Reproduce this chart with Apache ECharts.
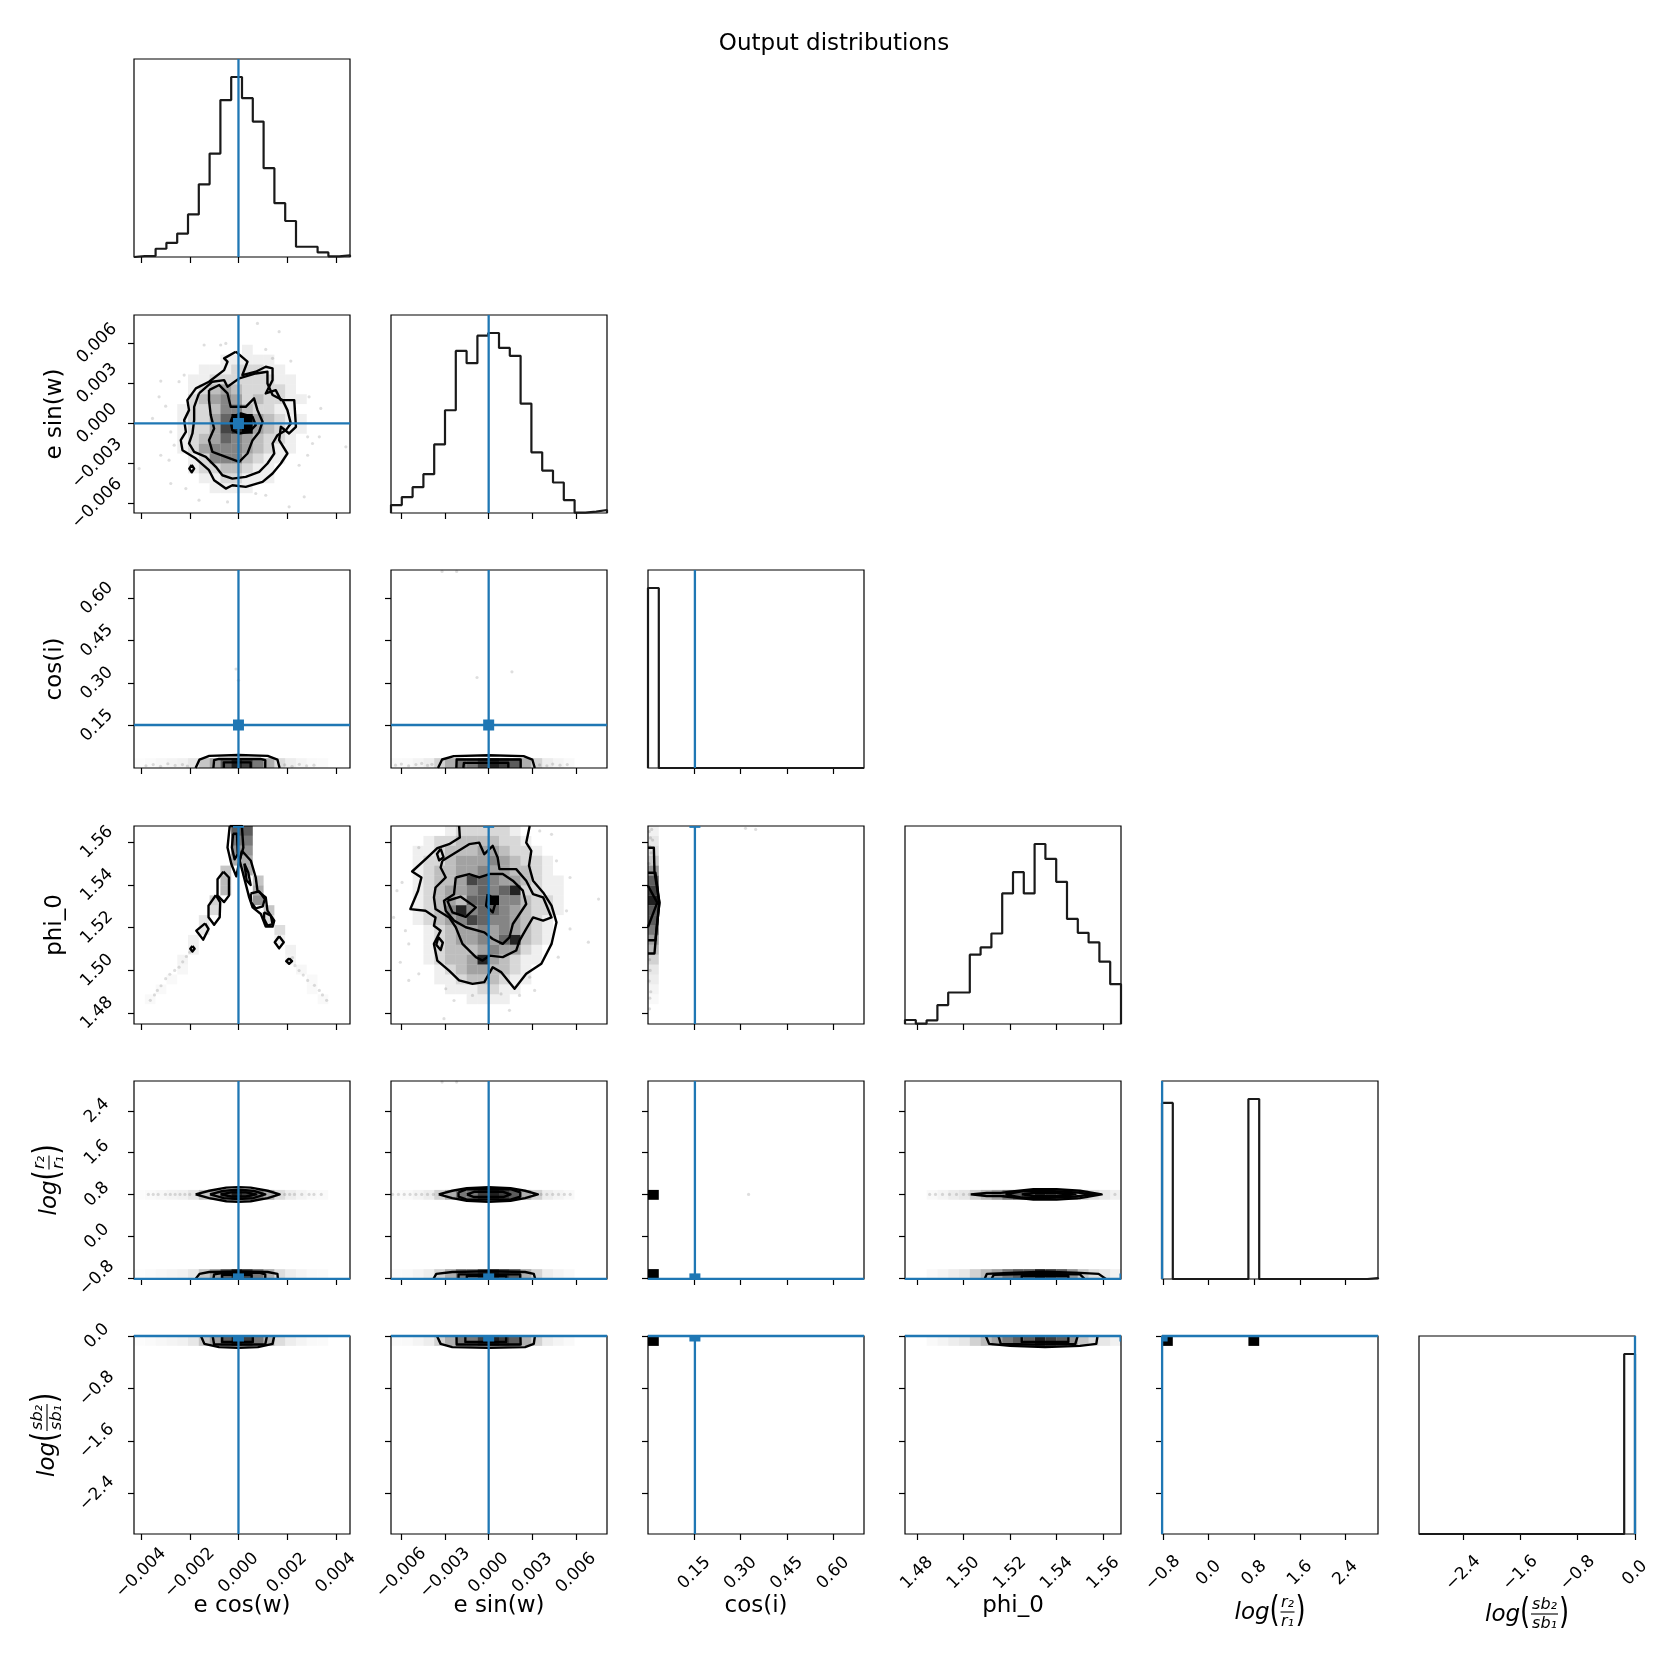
<!DOCTYPE html>
<html>
<head>
<meta charset="utf-8">
<title>Output distributions</title>
<script src="https://cdn.jsdelivr.net/npm/echarts@6.0.0/dist/echarts.min.js"></script>
<style>
  html, body { margin: 0; padding: 0; background: #fff; }
  #chart { width: 1668px; height: 1668px; }
</style>
</head>
<body>
<div id="chart"></div>
<script>
// parameter order: e cos(w), e sin(w), cos(i), phi_0, log(r2/r1), log(sb2/sb1)
var plainLabels = ['e cos(w)', 'e sin(w)', 'cos(i)', 'phi_0'];
var ranges = [
  [-0.00429, 0.00458],
  [-0.00671, 0.00813],
  [0.0, 0.70],
  [1.4749, 1.5676],
  [-0.818, 2.97],
  [-3.016, 0.0]
];
var tickValues = [
  [-0.004, -0.002, 0, 0.002, 0.004],
  [-0.006, -0.003, 0, 0.003, 0.006],
  [0.15, 0.30, 0.45, 0.60],
  [1.48, 1.50, 1.52, 1.54, 1.56],
  [-0.8, 0.0, 0.8, 1.6, 2.4],
  [-2.4, -1.6, -0.8, 0.0]
];
var tickDecimals = [3, 3, 2, 2, 1, 1];
var truths = [0.0, 0.0, 0.152, 1.5693, -0.816, 0.0];

// 1D histograms (20 bins over each range)
var histEcos = [3, 3, 25, 43, 71, 129, 220, 313, 475, 545, 481, 410, 269, 163, 109, 31, 31, 14, 2, 5];
var histEsin = [24, 48, 78, 117, 207, 310, 489, 452, 535, 543, 498, 474, 330, 183, 128, 92, 39, 1, 4, 9];
var histCosi = [545, 0, 0, 0, 0, 0, 0, 0, 0, 0, 0, 0, 0, 0, 0, 0, 0, 0, 0, 0];
var histPhi = [12, 1, 11, 57, 95, 95, 209, 231, 273, 394, 458, 394, 543, 498, 429, 317, 275, 246, 188, 120];
var histLogR = [533, 0, 0, 0, 0, 0, 0, 0, 545, 0, 0, 0, 0, 0, 0, 0, 0, 0, 0, 3];
var histLogSb = [0, 0, 0, 0, 0, 0, 0, 0, 0, 0, 0, 0, 0, 0, 0, 0, 0, 0, 0, 545];

// 2D density shading (0-9), rows from top bin (19) to bottom bin (0)
var gridEsinEcos = [
  '00000000000000000000', '00000000000000000000', '00000000000000000000', '00000000001000000000',
  '00000000111110000000', '00000011122211000000', '00000112222221100000', '00000123432222100000',
  '00000234542322110000', '00001223553221100000', '00001224699432110000', '00001224789432110000',
  '00001234654322100000', '00001245554321100000', '00000125553211000000', '00000122332110000000',
  '00000011221110000000', '00000001111000000000', '00000000000000000000', '00000000000000000000'
];
var gridPhiEsin = [
  '00000122222100000000', '00012233332210000000', '00112333443221000000', '00122344454322100000',
  '00123344544332100000', '00123347654432110000', '00123445656822110000', '00123436695532210000',
  '00123585665432210000', '00123457655432100000', '00012344545432100000', '00012344546832100000',
  '00012333454421000000', '00012334843211000000', '00001234433210000000', '00001123332110000000',
  '00000111221100000000', '00000001111000000000', '00000000000000000000', '00000000000000000000'
];
// [x bin, y bin, shade 0-10]
var cellsPhiEcos = [
  [1, 2, 0.5], [2, 3, 0.5], [3, 4, 0.5], [4, 5, 0.6], [4, 6, 0.8], [5, 7, 1], [5, 8, 1], [6, 9, 1.5], [6, 10, 1.5],
  [7, 11, 2], [7, 12, 2.5], [8, 13, 3.5], [8, 14, 3.5], [8, 15, 3], [9, 16, 4], [9, 17, 5], [9, 18, 6], [9, 19, 7],
  [10, 19, 7], [10, 18, 6], [10, 17, 5], [10, 16, 4], [10, 15, 4], [11, 14, 3], [11, 13, 4], [11, 12, 5],
  [12, 11, 3], [12, 10, 2], [13, 9, 2], [13, 8, 1], [14, 7, 1], [14, 6, 0.8], [15, 5, 0.6], [16, 4, 0.5], [16, 3, 0.5], [17, 2, 0.5]
];
// marginal shading of the narrow bands (0-10)
var bandEcos = [0.3, 0.4, 0.6, 0.8, 1, 1.5, 3, 4.5, 7, 9, 8, 6, 4, 2, 1.2, 0.8, 0.5, 0.4, 0, 0];
var bandEsin = [0.4, 0.5, 0.8, 1.2, 2.5, 4, 6, 6, 8, 9, 8, 7, 4, 2.5, 1.2, 0.8, 0.5, 0, 0, 0];
var bandPhi = [0, 0, 0.5, 0.8, 1.2, 1.5, 2.5, 3.5, 4.5, 6, 7, 7, 9, 8, 7, 5, 3, 2, 1.5, 1];
var cellsLogrCosi = [[0, 0, 10], [0, 8, 10]];
var cellsLogsbCosi = [[0, 19, 10]];
var cellsLogsbLogr = [[0, 19, 10], [8, 19, 10]];

// contour lines
var contoursEsinEcos = [
  [[-0.00011, 0.00538], [0.00037, 0.00463], [0.00016, 0.00363], [0.00071, 0.00388], [0.00112, 0.00425], [0.00140, 0.00413],
   [0.00140, 0.00325], [0.00112, 0.00225], [0.00153, 0.00250], [0.00174, 0.00175], [0.00229, 0.00175], [0.00236, -0.00025],
   [0.00208, -0.00075], [0.00174, -0.00025], [0.00167, -0.00125], [0.00201, -0.00225], [0.00174, -0.00300], [0.00140, -0.00375],
   [0.00099, -0.00438], [0.00030, -0.00475], [-0.00025, -0.00463], [-0.00052, -0.00488], [-0.00100, -0.00425], [-0.00121, -0.00350],
   [-0.00175, -0.00263], [-0.00230, -0.00200], [-0.00237, -0.00125], [-0.00216, -0.00063], [-0.00223, 0.00025], [-0.00203, 0.00100],
   [-0.00210, 0.00175], [-0.00175, 0.00263], [-0.00121, 0.00313], [-0.00059, 0.00400], [-0.00045, 0.00463], [-0.00059, 0.00488], [-0.00011, 0.00538]],
  [[-0.00162, 0.00225], [-0.00107, 0.00313], [-0.00059, 0.00325], [-0.00045, 0.00275], [0.00003, 0.00338], [0.00071, 0.00375],
   [0.00119, 0.00388], [0.00119, 0.00300], [0.00140, 0.00213], [0.00181, 0.00175], [0.00201, 0.00100], [0.00215, 0.0],
   [0.00195, -0.00050], [0.00160, -0.00088], [0.00140, -0.00150], [0.00147, -0.00225], [0.00119, -0.00300], [0.00085, -0.00363],
   [0.00030, -0.00400], [-0.00025, -0.00413], [-0.00066, -0.00388], [-0.00093, -0.00325], [-0.00134, -0.00250], [-0.00182, -0.00213],
   [-0.00203, -0.00150], [-0.00189, -0.00075], [-0.00182, 0.00025], [-0.00182, 0.00125], [-0.00162, 0.00225]],
  [[-0.00121, 0.00250], [-0.00079, 0.00288], [-0.00045, 0.00225], [-0.00032, 0.00125], [0.00030, 0.00125], [0.00064, 0.00188],
   [0.00078, 0.00100], [0.00099, 0.00013], [0.00085, -0.00063], [0.00058, -0.00125], [0.00037, -0.00225], [0.00003, -0.00288],
   [-0.00052, -0.00250], [-0.00107, -0.00213], [-0.00121, -0.00125], [-0.00100, -0.00038], [-0.00114, 0.00063], [-0.00121, 0.00175], [-0.00121, 0.00250]],
  [[-0.00025, 0.00050], [0.00010, 0.00075], [0.00058, 0.00050], [0.00071, -0.00013], [0.00044, -0.00063], [0.00003, -0.00075],
   [-0.00025, -0.00050], [-0.00032, 0.00013], [-0.00025, 0.00050]],
  [[-0.00192, -0.00310], [-0.00182, -0.00338], [-0.00192, -0.00366], [-0.00202, -0.00338], [-0.00192, -0.00310]]
];
var contoursPhiEcos = [
  [[-0.00036, 1.5676], [0.00014, 1.5676], [0.00020, 1.5575], [0.00004, 1.5513], [-0.00009, 1.5440], [-0.00029, 1.5497], [-0.00045, 1.5575], [-0.00036, 1.5676]],
  [[-0.00022, 1.5640], [-0.00006, 1.5640], [-0.00003, 1.5544], [-0.00016, 1.5520], [-0.00027, 1.5575], [-0.00022, 1.5640]],
  [[0.00014, 1.5560], [0.00051, 1.5513], [0.00071, 1.5435], [0.00078, 1.5373], [0.00112, 1.5342], [0.00119, 1.5280], [0.00147, 1.5233],
   [0.00140, 1.5205], [0.00112, 1.5205], [0.00092, 1.5264], [0.00058, 1.5295], [0.00044, 1.5342], [0.00030, 1.5404], [0.00016, 1.5466], [0.00005, 1.5513], [0.00014, 1.5560]],
  [[0.00050, 1.5360], [0.00085, 1.5370], [0.00108, 1.5334], [0.00100, 1.5300], [0.00071, 1.5290], [0.00052, 1.5319], [0.00050, 1.5360]],
  [[0.00024, 1.5500], [0.00040, 1.5460], [0.00050, 1.5400], [0.00034, 1.5420], [0.00024, 1.5500]],
  [[0.00105, 1.5272], [0.00133, 1.5256], [0.00140, 1.5217], [0.00119, 1.5210], [0.00105, 1.5241], [0.00105, 1.5272]],
  [[0.00167, 1.5160], [0.00186, 1.5132], [0.00167, 1.5103], [0.00149, 1.5132], [0.00167, 1.5160]],
  [[0.00208, 1.5056], [0.00220, 1.5043], [0.00208, 1.5031], [0.00196, 1.5043], [0.00208, 1.5056]],
  [[-0.00062, 1.5462], [-0.00039, 1.5435], [-0.00039, 1.5350], [-0.00059, 1.5320], [-0.00086, 1.5350], [-0.00086, 1.5427], [-0.00062, 1.5462]],
  [[-0.00093, 1.5352], [-0.00075, 1.5319], [-0.00077, 1.5249], [-0.00100, 1.5214], [-0.00123, 1.5249], [-0.00123, 1.5303], [-0.00093, 1.5352]],
  [[-0.00137, 1.5220], [-0.00123, 1.5194], [-0.00145, 1.5144], [-0.00173, 1.5186], [-0.00137, 1.5220]],
  [[-0.00189, 1.5114], [-0.00180, 1.5101], [-0.00189, 1.5088], [-0.00198, 1.5101], [-0.00189, 1.5114]]
];
var contoursPhiEsin = [
  [[-0.00203, 1.5676], [-0.00198, 1.5622], [-0.00272, 1.5591], [-0.00353, 1.5572], [-0.00422, 1.5528], [-0.00526, 1.5463], [-0.00462, 1.5435],
   [-0.00485, 1.5373], [-0.00538, 1.5287], [-0.00434, 1.5279], [-0.00365, 1.5248], [-0.00376, 1.5209], [-0.00330, 1.5186], [-0.00376, 1.5124],
   [-0.00353, 1.5046], [-0.00272, 1.4999], [-0.00203, 1.4953], [-0.00111, 1.4937], [-0.00030, 1.4945], [0.00028, 1.5015], [0.00085, 1.4992],
   [0.00178, 1.4914], [0.00258, 1.4984], [0.00362, 1.5031], [0.00432, 1.5124], [0.00466, 1.5225], [0.00432, 1.5303], [0.00374, 1.5365],
   [0.00305, 1.5420], [0.00277, 1.5490], [0.00293, 1.5560], [0.00258, 1.5598], [0.00282, 1.5676]],
  [[-0.00318, 1.5513], [-0.00226, 1.5552], [-0.00134, 1.5591], [-0.00065, 1.5598], [-0.00030, 1.5544], [0.00028, 1.5583], [0.00062, 1.5528],
   [0.00074, 1.5474], [0.00189, 1.5474], [0.00258, 1.5420], [0.00305, 1.5357], [0.00374, 1.5342], [0.00432, 1.5248], [0.00374, 1.5233],
   [0.00305, 1.5248], [0.00258, 1.5194], [0.00212, 1.5139], [0.00189, 1.5093], [0.00097, 1.5062], [0.00005, 1.5069], [-0.00042, 1.5046],
   [-0.00088, 1.5062], [-0.00180, 1.5124], [-0.00226, 1.5202], [-0.00272, 1.5248], [-0.00365, 1.5287], [-0.00376, 1.5342], [-0.00365, 1.5388],
   [-0.00295, 1.5435], [-0.00330, 1.5482], [-0.00318, 1.5513]],
  [[-0.00226, 1.5435], [-0.00134, 1.5451], [-0.00065, 1.5435], [0.00005, 1.5451], [0.00097, 1.5451], [0.00166, 1.5420], [0.00235, 1.5373],
   [0.00258, 1.5311], [0.00212, 1.5264], [0.00166, 1.5217], [0.00143, 1.5155], [0.00097, 1.5124], [0.00028, 1.5147], [-0.00030, 1.5178],
   [-0.00157, 1.5202], [-0.00238, 1.5233], [-0.00295, 1.5279], [-0.00307, 1.5326], [-0.00238, 1.5357], [-0.00226, 1.5435]],
  [[-0.00284, 1.5326], [-0.00192, 1.5345], [-0.00088, 1.5295], [-0.00157, 1.5251], [-0.00249, 1.5272], [-0.00284, 1.5326]],
  [[-0.00007, 1.5357], [0.00051, 1.5326], [0.00028, 1.5272], [-0.00018, 1.5303], [-0.00007, 1.5357]],
  [[-0.00330, 1.5570], [-0.00310, 1.5530], [-0.00340, 1.5515], [-0.00355, 1.5545], [-0.00330, 1.5570]],
  [[-0.00345, 1.5155], [-0.00315, 1.5130], [-0.00330, 1.5095], [-0.00360, 1.5120], [-0.00345, 1.5155]]
];
var contoursCosiEcos = [
  [[-0.00176, 0], [-0.0016, 0.030], [-0.0012, 0.043], [0, 0.046], [0.0012, 0.043], [0.0016, 0.030], [0.00169, 0]],
  [[-0.00103, 0], [-0.0010, 0.028], [-0.0008, 0.032], [0.0009, 0.032], [0.0011, 0.028], [0.0011, 0]],
  [[-0.0006, 0], [-0.0006, 0.020], [0.0005, 0.020], [0.0005, 0]]
];
var contoursCosiEsin = [
  [[-0.00348, 0], [-0.0032, 0.030], [-0.0024, 0.042], [0, 0.045], [0.0024, 0.042], [0.0030, 0.030], [0.00317, 0]],
  [[-0.00222, 0], [-0.0022, 0.030], [0.0022, 0.030], [0.0022, 0]],
  [[-0.00174, 0], [-0.0017, 0.018], [0.00135, 0.018], [0.00135, 0]]
];
var contoursPhiCosi = [
  [[0, 1.5574], [0.019, 1.5574], [0.021, 1.5460], [0.037, 1.5317], [0.028, 1.5200], [0.021, 1.5079], [0, 1.5079]],
  [[0, 1.5457], [0.024, 1.5457], [0.037, 1.5317], [0.024, 1.5141], [0, 1.5141]],
  [[0, 1.5396], [0.030, 1.5317], [0, 1.5203]]
];
var contoursLogrEcos = [
  [[-0.00176, 0.80], [-0.0012, 0.87], [-0.0005, 0.93], [0, 0.94], [0.0005, 0.93], [0.0012, 0.87], [0.00169, 0.80], [0.0012, 0.73], [0.0005, 0.67], [0, 0.66], [-0.0005, 0.67], [-0.0012, 0.73], [-0.00176, 0.80]],
  [[-0.00117, 0.80], [-0.0006, 0.87], [0, 0.89], [0.0006, 0.87], [0.0011, 0.80], [0.0006, 0.73], [0, 0.71], [-0.0006, 0.73], [-0.00117, 0.80]],
  [[-0.00074, 0.80], [-0.0003, 0.84], [0.0003, 0.84], [0.00073, 0.80], [0.0003, 0.76], [-0.0003, 0.76], [-0.00074, 0.80]],
  [[-0.00176, -0.818], [-0.0016, -0.72], [-0.0012, -0.685], [0, -0.675], [0.0012, -0.685], [0.0016, -0.72], [0.00162, -0.818]],
  [[-0.00103, -0.818], [-0.0010, -0.73], [-0.0006, -0.70], [0.0009, -0.70], [0.0011, -0.73], [0.0011, -0.818]],
  [[-0.00067, -0.818], [-0.00067, -0.74], [0.00054, -0.74], [0.00054, -0.818]]
];
var contoursLogrEsin = [
  [[-0.00343, 0.80], [-0.0025, 0.87], [-0.0015, 0.92], [0, 0.94], [0.0015, 0.92], [0.0025, 0.87], [0.00338, 0.80], [0.0025, 0.73], [0.0015, 0.68], [0, 0.66], [-0.0015, 0.68], [-0.0025, 0.73], [-0.00343, 0.80]],
  [[-0.00207, 0.84], [-0.0015, 0.90], [0.0015, 0.90], [0.00217, 0.84], [0.00217, 0.76], [0.0015, 0.70], [-0.0015, 0.70], [-0.00207, 0.76], [-0.00207, 0.84]],
  [[-0.0015, 0.80], [-0.0010, 0.85], [0.0010, 0.85], [0.0015, 0.80], [0.0010, 0.75], [-0.0010, 0.75], [-0.0015, 0.80]],
  [[-0.0038, -0.818], [-0.0036, -0.72], [-0.0025, -0.685], [0, -0.67], [0.0025, -0.685], [0.0031, -0.72], [0.0032, -0.818]],
  [[-0.00207, -0.818], [-0.00207, -0.73], [0.00217, -0.73], [0.00217, -0.818]],
  [[-0.0015, -0.818], [-0.0015, -0.76], [0.0012, -0.76], [0.0012, -0.818]]
];
var contoursLogrPhi = [
  [[1.5031, 0.80], [1.510, 0.83], [1.516, 0.83], [1.520, 0.85], [1.530, 0.90], [1.540, 0.90], [1.550, 0.87], [1.5593, 0.80], [1.550, 0.73], [1.540, 0.70], [1.530, 0.70], [1.520, 0.75], [1.516, 0.77], [1.510, 0.77], [1.5031, 0.80]],
  [[1.518, 0.80], [1.525, 0.86], [1.535, 0.87], [1.548, 0.84], [1.556, 0.80], [1.548, 0.76], [1.535, 0.73], [1.525, 0.74], [1.518, 0.80]],
  [[1.525, 0.80], [1.530, 0.83], [1.540, 0.83], [1.548, 0.80], [1.540, 0.77], [1.530, 0.77], [1.525, 0.80]],
  [[1.5091, -0.818], [1.510, -0.72], [1.520, -0.70], [1.535, -0.68], [1.550, -0.70], [1.558, -0.72], [1.5611, -0.818]],
  [[1.512, -0.818], [1.513, -0.74], [1.530, -0.72], [1.550, -0.73], [1.552, -0.818]],
  [[1.525, -0.818], [1.525, -0.76], [1.545, -0.76], [1.545, -0.818]]
];
var contoursLogsbEcos = [
  [[-0.00154, 0], [-0.0014, -0.12], [-0.0008, -0.17], [0, -0.18], [0.0008, -0.17], [0.0014, -0.12], [0.00147, 0]],
  [[-0.00106, 0], [-0.0010, -0.13], [0.0011, -0.13], [0.00117, 0]],
  [[-0.00067, 0], [-0.00067, -0.09], [0.00059, -0.09], [0.00059, 0]]
];
var contoursLogsbEsin = [
  [[-0.00355, 0], [-0.0033, -0.12], [-0.0025, -0.17], [0, -0.18], [0.0025, -0.17], [0.0031, -0.12], [0.00318, 0]],
  [[-0.00221, 0], [-0.0022, -0.13], [0.0022, -0.13], [0.00218, 0]],
  [[-0.0016, 0], [-0.0016, -0.09], [0.0012, -0.09], [0.0012, 0]]
];
var contoursLogsbPhi = [
  [[1.5096, 0], [1.511, -0.12], [1.520, -0.15], [1.535, -0.17], [1.550, -0.15], [1.557, -0.12], [1.5575, 0]],
  [[1.515, 0], [1.516, -0.12], [1.530, -0.13], [1.548, -0.12], [1.549, 0]],
  [[1.525, 0], [1.525, -0.09], [1.545, -0.09], [1.545, 0]]
];

// individual samples outside the contours
var ptsEsinEcos = [
  [0.00078, 0.0075], [0.00167, 0.00688], [-0.00141, 0.00588], [-0.00052, 0.0060], [-0.00073, 0.00588], [0.00112, 0.00555],
  [0.00215, 0.00468], [-0.00319, 0.00318], [-0.00244, 0.00313], [-0.00223, 0.00363], [0.00140, 0.00488], [-0.00326, 0.0020],
  [-0.00299, 0.0013], [-0.00353, 0.00038], [-0.00278, -0.00063], [-0.00264, -0.00163], [-0.00319, -0.00238], [-0.00285, -0.00275],
  [-0.00408, -0.00338], [-0.00278, -0.0045], [-0.00216, -0.00488], [-0.00162, -0.00575], [-0.00045, -0.00588], [0.00071, -0.00525],
  [0.00112, -0.00538], [0.00208, -0.00625], [0.00270, -0.0055], [0.00249, -0.00313], [0.00284, -0.00238], [0.00304, -0.0015],
  [0.00284, -0.0010], [0.00338, 0.00113], [0.00332, -0.0010], [0.00290, 0.0020], [0.00441, -0.00175]
];
var ptsPhiEcos = [
  [-0.00362, 1.4860], [-0.00345, 1.4885], [-0.00333, 1.4906], [-0.00318, 1.4928], [-0.00299, 1.4961], [-0.00282, 1.4982],
  [-0.00262, 1.5000], [-0.00244, 1.5015], [-0.00229, 1.5040], [-0.00214, 1.5065], [-0.00200, 1.5085],
  [0.00362, 1.4860], [0.00345, 1.4885], [0.00332, 1.4906], [0.00312, 1.4930], [0.00284, 1.4953], [0.00266, 1.4978],
  [0.00249, 1.4999], [0.00232, 1.5022], [0.00222, 1.5060]
];
var ptsPhiEsin = [
  [-0.00653, 1.5248], [-0.00595, 1.5412], [-0.0063, 1.5373], [-0.00572, 1.5186], [-0.0048, 1.5575], [-0.00549, 1.5124],
  [-0.00607, 1.5038], [-0.0048, 1.4984], [-0.00549, 1.4953], [-0.00295, 1.4914], [-0.00238, 1.4859], [-0.00111, 1.4883],
  [0.00085, 1.4890], [0.00212, 1.4883], [0.00316, 1.4906], [0.00282, 1.4968], [0.00478, 1.5062], [0.00559, 1.5194],
  [0.00535, 1.5279], [0.00466, 1.5513], [0.00432, 1.5637], [0.00351, 1.5653], [0.00559, 1.5435], [0.00755, 1.5334],
  [0.00685, 1.5132], [-0.00307, 1.4774], [0.00143, 1.4813]
];
var ptsCosiEcos = [
  [-0.0038, 0.008], [-0.0035, 0.012], [-0.0032, 0.006], [-0.0029, 0.015], [-0.0026, 0.009], [-0.0023, 0.012], [-0.0021, 0.007],
  [0.0019, 0.011], [0.0022, 0.006], [0.0025, 0.013], [0.0028, 0.008], [0.0031, 0.010], [0.0, 0.31], [-0.0001, 0.35]
];
var ptsCosiEsin = [
  [-0.0064, 0.010], [-0.0060, 0.014], [-0.0055, 0.008], [-0.0050, 0.012], [-0.0046, 0.016], [-0.0042, 0.009], [-0.0039, 0.013],
  [0.0035, 0.011], [0.0040, 0.008], [0.0044, 0.014], [0.0049, 0.010], [0.0054, 0.012], [-0.0032, 0.695], [-0.0022, 0.695],
  [0.0016, 0.34], [-0.0008, 0.32]
];
var ptsPhiCosi = [
  [0.004, 1.565], [0.008, 1.562], [0.012, 1.566], [0.006, 1.558], [0.015, 1.561], [0.010, 1.555], [0.003, 1.550],
  [0.005, 1.505], [0.007, 1.500], [0.004, 1.495], [0.009, 1.490], [0.006, 1.487], [0.005, 1.482], [0.316, 1.5665], [0.349, 1.566]
];
var ptsLogrEcos = [
  [-0.0037, 0.8], [-0.0035, 0.8], [-0.0033, 0.8], [-0.0030, 0.8], [-0.0028, 0.8], [-0.0026, 0.8], [-0.0024, 0.8], [-0.0022, 0.8],
  [-0.0020, 0.8], [0.0019, 0.8], [0.0021, 0.8], [0.0023, 0.8], [0.0026, 0.8], [0.0029, 0.8], [0.0031, 0.8], [0.0034, 0.8]
];
var ptsLogrEsin = [
  [-0.0066, 0.8], [-0.0062, 0.8], [-0.0058, 0.8], [-0.0054, 0.8], [-0.0050, 0.8], [-0.0046, 0.8], [-0.0042, 0.8], [-0.0038, 0.8],
  [0.0036, 0.8], [0.0040, 0.8], [0.0044, 0.8], [0.0048, 0.8], [0.0052, 0.8], [0.0056, 0.8], [-0.0032, 2.95], [-0.0022, 2.95]
];
var ptsLogrCosi = [[0.326, 0.8]];
var ptsLogrPhi = [[1.4855, 0.8], [1.488, 0.8], [1.491, 0.8], [1.494, 0.8], [1.497, 0.8], [1.500, 0.8], [1.5025, 0.8], [1.565, 0.8]];

// ---- build cell lists ----
function gridToCells(rows) {
  var out = [];
  rows.forEach(function (row, k) {
    var j = rows.length - 1 - k;
    for (var i = 0; i < row.length; i++) {
      var v = +row.charAt(i);
      if (v > 0) out.push([i, j, v * 10 / 9]);
    }
  });
  return out;
}
function bandRows(band, js) {
  var out = [];
  js.forEach(function (j) {
    band.forEach(function (v, i) { if (v > 0) out.push([i, j, v]); });
  });
  return out;
}
function bandCol(band, i) {
  var out = [];
  band.forEach(function (v, j) { if (v > 0) out.push([i, j, v]); });
  return out;
}

var hists = [histEcos, histEsin, histCosi, histPhi, histLogR, histLogSb];
var panels = {
  '1-0': {cells: gridToCells(gridEsinEcos), contours: contoursEsinEcos, points: ptsEsinEcos},
  '2-0': {cells: bandRows(bandEcos, [0]), contours: contoursCosiEcos, points: ptsCosiEcos},
  '2-1': {cells: bandRows(bandEsin, [0]), contours: contoursCosiEsin, points: ptsCosiEsin},
  '3-0': {cells: cellsPhiEcos, contours: contoursPhiEcos, points: ptsPhiEcos},
  '3-1': {cells: gridToCells(gridPhiEsin), contours: contoursPhiEsin, points: ptsPhiEsin},
  '3-2': {cells: bandCol(bandPhi, 0), contours: contoursPhiCosi, points: ptsPhiCosi},
  '4-0': {cells: bandRows(bandEcos, [0, 8]), contours: contoursLogrEcos, points: ptsLogrEcos},
  '4-1': {cells: bandRows(bandEsin, [0, 8]), contours: contoursLogrEsin, points: ptsLogrEsin},
  '4-2': {cells: cellsLogrCosi, contours: [], points: ptsLogrCosi},
  '4-3': {cells: bandRows(bandPhi, [0, 8]), contours: contoursLogrPhi, points: ptsLogrPhi},
  '5-0': {cells: bandRows(bandEcos, [19]), contours: contoursLogsbEcos, points: []},
  '5-1': {cells: bandRows(bandEsin, [19]), contours: contoursLogsbEsin, points: []},
  '5-2': {cells: cellsLogsbCosi, contours: [], points: []},
  '5-3': {cells: bandRows(bandPhi, [19]), contours: contoursLogsbPhi, points: []},
  '5-4': {cells: cellsLogsbLogr, contours: [], points: []}
};

// ---- layout ----
var colLeft = [134, 391, 648, 905, 1162, 1419];
var rowTop = [59, 315, 570, 826, 1081, 1336];
var PW = 216, PH = 198;
var BLUE = '#1f77b4';
var FONT = 'DejaVu Sans';

function makeFormatter(dec) {
  return function (v) { return (+v).toFixed(dec).replace('-', '\u2212'); };
}
function makeAxis(g, v, showLabels, isX) {
  return {
    type: 'value', gridIndex: g, min: ranges[v][0], max: ranges[v][1],
    axisLine: {show: false, onZero: false},
    splitLine: {show: false},
    axisTick: {show: true, inside: false, length: 6, lineStyle: {color: '#000', width: 1.2}, customValues: tickValues[v]},
    axisLabel: {
      show: showLabels, customValues: tickValues[v], rotate: 45,
      align: 'center', verticalAlign: 'middle', margin: isX ? 39 : 37,
      fontSize: 17, fontFamily: FONT, color: '#000',
      formatter: makeFormatter(tickDecimals[v])
    }
  };
}
function histSeries(g, v, counts) {
  var r = ranges[v], w = (r[1] - r[0]) / counts.length;
  var pts = [[r[0], 0]];
  counts.forEach(function (n, k) { pts.push([r[0] + k * w, n]); });
  pts.push([r[1], counts[counts.length - 1]]);
  pts.push([r[1], 0]);
  return {
    type: 'line', xAxisIndex: g, yAxisIndex: g, step: 'end', data: pts, symbol: 'none', silent: true, z: 4,
    lineStyle: {color: '#1a1a1a', width: 2.2}
  };
}
function cellSeries(g, vx, vy, cells) {
  var xr = ranges[vx], yr = ranges[vy];
  var bw = (xr[1] - xr[0]) / 20, bh = (yr[1] - yr[0]) / 20;
  return {
    type: 'custom', xAxisIndex: g, yAxisIndex: g, z: 3, silent: true, data: cells,
    renderItem: function (params, api) {
      var i = api.value(0), j = api.value(1), s = Math.pow(api.value(2) / 10, 1.25);
      var a = api.coord([xr[0] + i * bw, yr[0] + (j + 1) * bh]);
      var b = api.coord([xr[0] + (i + 1) * bw, yr[0] + j * bh]);
      return {type: 'rect', shape: {x: a[0], y: a[1], width: b[0] - a[0], height: b[1] - a[1]},
        style: {fill: 'rgba(0,0,0,' + s.toFixed(3) + ')'}};
    }
  };
}
function contourSeries(g, line) {
  return {type: 'line', xAxisIndex: g, yAxisIndex: g, data: line, symbol: 'none', silent: true, z: 4, clip: true,
    lineStyle: {color: '#000', width: 2.4, join: 'round'}};
}
function pointSeries(g, pts) {
  return {type: 'scatter', xAxisIndex: g, yAxisIndex: g, data: pts, symbolSize: 3.2, silent: true, z: 2,
    itemStyle: {color: 'rgba(0,0,0,0.16)'}};
}
function truthSeries(g, tx, ty) {
  var diag = ty === null;
  return {
    type: 'custom', xAxisIndex: g, yAxisIndex: g, z: 6, silent: true, data: [[tx, diag ? 0 : ty]],
    renderItem: function (params, api) {
      var cs = params.coordSys;
      var p = api.coord([api.value(0), api.value(1)]);
      var kids = [];
      if (p[0] >= cs.x - 1 && p[0] <= cs.x + cs.width + 1) {
        kids.push({type: 'line', shape: {x1: p[0], y1: cs.y, x2: p[0], y2: cs.y + cs.height}, style: {stroke: BLUE, lineWidth: 2.3}});
      }
      if (!diag) {
        if (p[1] >= cs.y - 1 && p[1] <= cs.y + cs.height + 1) {
          kids.push({type: 'line', shape: {x1: cs.x, y1: p[1], x2: cs.x + cs.width, y2: p[1]}, style: {stroke: BLUE, lineWidth: 2.3}});
        }
        var sq = echarts.graphic.clipRectByRect({x: p[0] - 5.5, y: p[1] - 5.5, width: 11, height: 11}, cs);
        if (sq) kids.push({type: 'rect', shape: sq, style: {fill: BLUE}});
      }
      return {type: 'group', children: kids};
    }
  };
}

var grids = [], xAxes = [], yAxes = [], series = [];
var g = 0;
for (var r = 0; r < 6; r++) {
  for (var c = 0; c <= r; c++) {
    grids.push({left: colLeft[c], top: rowTop[r], width: PW, height: PH, show: true,
      borderColor: '#000', borderWidth: 1.2, backgroundColor: 'transparent'});
    xAxes.push(makeAxis(g, c, r === 5, true));
    if (r === c) {
      var counts = hists[c];
      yAxes.push({type: 'value', gridIndex: g, min: 0, max: 1.1 * Math.max.apply(null, counts), show: false});
      series.push(histSeries(g, c, counts));
      series.push(truthSeries(g, truths[c], null));
    } else {
      yAxes.push(makeAxis(g, r, c === 0, false));
      var p = panels[r + '-' + c];
      if (p.points.length) series.push(pointSeries(g, p.points));
      series.push(cellSeries(g, c, r, p.cells));
      for (var k = 0; k < p.contours.length; k++) series.push(contourSeries(g, p.contours[k]));
      series.push(truthSeries(g, truths[c], truths[r]));
    }
    g++;
  }
}

// ---- axis titles ----
function fracLabel(cx, cy, num, den, fracW, rot) {
  var logW = 35, parW = 10, gap = 1;
  var total = logW + parW + gap + fracW + gap + parW;
  var x = -total / 2;
  var base = {fontFamily: FONT, fill: '#000', verticalAlign: 'middle'};
  function st(o) { return Object.assign({}, base, o); }
  var kids = [];
  kids.push({type: 'text', x: x, y: 1, style: st({text: 'log', fontSize: 23, fontStyle: 'italic', align: 'left'})});
  x += logW;
  kids.push({type: 'text', x: x, y: 0, scaleY: 1.35, style: st({text: '(', fontSize: 26, align: 'left'})});
  x += parW + gap;
  kids.push({type: 'text', x: x + fracW / 2, y: -9, style: st({text: num, fontSize: 16, fontStyle: 'italic', align: 'center'})});
  kids.push({type: 'line', shape: {x1: x, y1: 0, x2: x + fracW, y2: 0}, style: {stroke: '#000', lineWidth: 1.1}});
  kids.push({type: 'text', x: x + fracW / 2, y: 10, style: st({text: den, fontSize: 16, fontStyle: 'italic', align: 'center'})});
  x += fracW + gap;
  kids.push({type: 'text', x: x, y: 0, scaleY: 1.35, style: st({text: ')', fontSize: 26, align: 'left'})});
  return {type: 'group', x: cx, y: cy, rotation: rot, children: kids};
}

var graphics = [
  {type: 'text', x: 834, y: 44, style: {text: 'Output distributions', fontSize: 23, fontFamily: FONT, fill: '#000', align: 'center', verticalAlign: 'middle'}}
];
for (var c2 = 0; c2 < 4; c2++) {
  graphics.push({type: 'text', x: colLeft[c2] + PW / 2, y: 1606,
    style: {text: plainLabels[c2], fontSize: 23, fontFamily: FONT, fill: '#000', align: 'center', verticalAlign: 'middle'}});
}
for (var r2 = 1; r2 < 4; r2++) {
  graphics.push({type: 'text', x: 55, y: rowTop[r2] + PH / 2, rotation: Math.PI / 2,
    style: {text: plainLabels[r2], fontSize: 23, fontFamily: FONT, fill: '#000', align: 'center', verticalAlign: 'middle'}});
}
graphics.push(fracLabel(colLeft[4] + PW / 2, 1612, 'r\u2082', 'r\u2081', 14, 0));
graphics.push(fracLabel(colLeft[5] + PW / 2, 1614, 'sb\u2082', 'sb\u2081', 27, 0));
graphics.push(fracLabel(49, rowTop[4] + PH / 2, 'r\u2082', 'r\u2081', 14, Math.PI / 2));
graphics.push(fracLabel(47, rowTop[5] + PH / 2, 'sb\u2082', 'sb\u2081', 27, Math.PI / 2));

var chart = echarts.init(document.getElementById('chart'), null, {renderer: 'canvas'});
chart.setOption({
  animation: false,
  backgroundColor: '#fff',
  grid: grids,
  xAxis: xAxes,
  yAxis: yAxes,
  series: series,
  graphic: graphics
});
</script>
</body>
</html>
